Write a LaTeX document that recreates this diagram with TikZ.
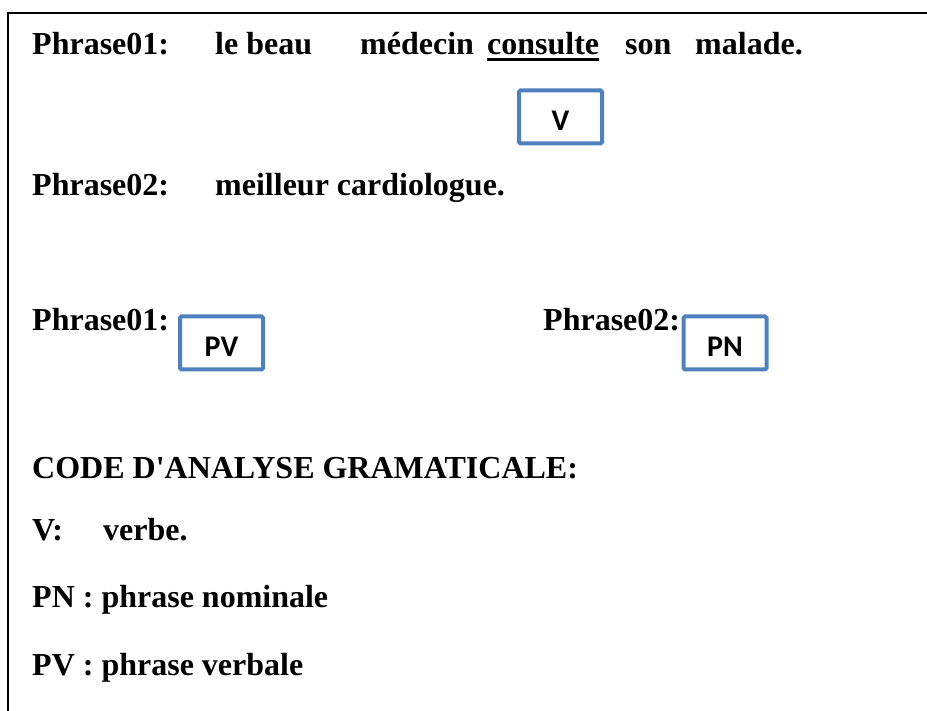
\documentclass[tikz,border=0pt]{standalone}
\usepackage{fontspec}
\setmainfont{Liberation Serif}
\newfontfamily\boxfont{Carlito}
\definecolor{boxblue}{HTML}{4F81BD}
\tikzset{
  txt/.style={anchor=base west, inner sep=0pt, font=\fontsize{32}{38}\selectfont\bfseries},
  codebox/.style={draw=boxblue, line width=4pt, rounded corners=1.5pt,
    minimum width=83pt, minimum height=53pt, inner sep=0pt,
    text height=28pt, text depth=0pt, font=\fontsize{30}{36}\boxfont\bfseries}
}

\begin{document}
\begin{tikzpicture}[x=1pt,y=-1pt]
                \useasboundingbox (0,0) rectangle (927,711);
                \draw[line width=1.5pt] (8,711) -- (8,13) -- (927,13);
                % phrase 1
                \node[txt] (pa) at (32,55) {Phrase01:};
                \node[txt] (le) at (215,55) {le beau};
                \node[txt] (med) at (360,55) {médecin};
                \node[txt] (cons) at (487,55) {consulte};
                \node[txt] (son) at (625,55) {son};
                \node[txt] (mal) at (695,55) {malade.};
                \draw[line width=3pt] ([yshift=-5pt]cons.base west) -- ([yshift=-5pt]cons.base east);
                \node[codebox] (V) at (560.5,117) {V};
                % phrase 2
                \node[txt] (pb) at (32,196) {Phrase02:};
                \node[txt] (card) at (215,196) {meilleur cardiologue.};
                % types
                \node[txt] (pa2) at (32,331) {Phrase01:};
                \node[codebox] (PV) at (221.5,343) {PV};
                \node[txt] (pb2) at (543,331) {Phrase02:};
                \node[codebox] (PN) at (725,343) {PN};
                % code
                \node[txt] (code) at (32,478) {CODE D\textquotesingle ANALYSE GRAMATICALE:};
                \node[txt] (cv) at (32,540) {V:};
                \node[txt] (verbe) at (103,540) {verbe.};
                \node[txt] (cpn) at (32,607) {PN : phrase nominale};
                \node[txt] (cpv) at (32,675) {PV : phrase verbale};
                % \node[txt] at (32,740) {};
\end{tikzpicture}
\end{document}
